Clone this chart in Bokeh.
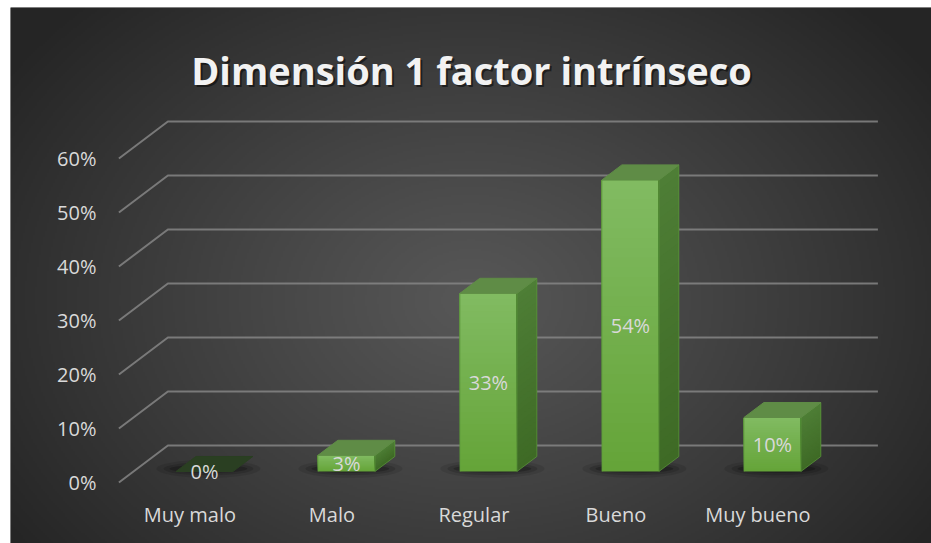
import numpy as np
from bokeh.plotting import figure
from bokeh.models import Range1d
from bokeh.core.properties import value
from bokeh.embed import file_html
from bokeh.resources import INLINE

# ---------------- data ----------------
categories = ["Muy malo", "Malo", "Regular", "Bueno", "Muy bueno"]
percentages = [0, 3, 33, 54, 10]
data_labels = ["0%", "3%", "33%", "54%", "10%"]
tick_values = [0, 10, 20, 30, 40, 50, 60]
tick_labels = ["0%", "10%", "20%", "30%", "40%", "50%", "60%"]
title_text = "Dimensión 1 factor intrínseco"

# ---------------- geometry (style) ----------------
W, H = 931, 543
FL, FT = 10, 7          # white strips left / top (frame offset)
PX_X = 142.0            # px per category
PX_Y = 5.4              # px per percent point
SX0 = 189.4             # screen px of category 0 on the front (z=0) plane
SY0 = 482.0             # screen px (from top) of 0 % on the front plane
DX = 49.0 / PX_X        # depth shift (x) for z = 1 (back wall)
DY = 37.0 / PX_Y        # depth shift (y) for z = 1
ZF, ZB = 0.297, 0.703   # bar front / back planes
HW = 28.5 / PX_X        # half bar width


def sx(px):
    return (px - SX0) / PX_X


def sy(py):
    return (SY0 - py) / PX_Y


x_lo, x_hi = sx(FL), sx(W)
y_lo, y_hi = sy(H), sy(FT)

p = figure(width=W, height=H, output_backend="svg", toolbar_location=None,
           x_range=Range1d(x_lo, x_hi), y_range=Range1d(y_lo, y_hi),
           min_border=0, min_border_left=FL, min_border_right=0,
           min_border_top=FT, min_border_bottom=0)
p.axis.visible = False
p.grid.visible = False
p.outline_line_color = None
p.background_fill_color = "#3a3a3a"
p.border_fill_color = "white"

# ---------------- radial gradient background ----------------
fw, fh = W - FL, H - FT
gw, gh = fw // 2 + 1, fh // 2 + 1
xs = np.linspace(FL, W, gw)
ys_scr = np.linspace(H, FT, gh)  # row 0 = bottom of the plot
GX, GY = np.meshgrid(xs, ys_scr)
d = np.sqrt(((GX - 470) / 560.0) ** 2 + ((GY - 300) / 420.0) ** 2)
d = np.clip(d, 0, 1)
c = (87 - (87 - 37) * d ** 1.1).astype(np.uint8)
img = np.empty((gh, gw), dtype=np.uint32)
view = img.view(dtype=np.uint8).reshape((gh, gw, 4))
view[:, :, 0] = c
view[:, :, 1] = c
view[:, :, 2] = c
view[:, :, 3] = 255
p.image_rgba(image=[img], x=x_lo, y=y_lo, dw=x_hi - x_lo, dh=y_hi - y_lo)

# ---------------- 3D gridlines (back wall + left diagonals) ----------------
n = len(categories)
left_edge, right_edge = -0.5, n - 0.5
gx, gy = [], []
for t in tick_values:
    gx.append([left_edge, left_edge + DX, right_edge + DX])
    gy.append([t, t + DY, t + DY])
p.multi_line(gx, gy, line_color="#858585", line_width=2, line_alpha=0.85)

# ---------------- bar shadows ----------------
for i, v in enumerate(percentages):
    cxs = i + DX * 0.5 - 6 / PX_X
    cys = DY * ZF + 0.5
    for (w_px, h_px, a) in [(104, 18, 0.10), (90, 13, 0.14), (78, 8, 0.22)]:
        p.ellipse(x=[cxs], y=[cys], width=w_px / PX_X, height=h_px / PX_Y,
                  fill_color="black", fill_alpha=a, line_color=None)


def lerp_hex(c1, c2, t):
    a = [int(c1[k:k + 2], 16) for k in (1, 3, 5)]
    b = [int(c2[k:k + 2], 16) for k in (1, 3, 5)]
    return "#%02x%02x%02x" % tuple(int(round(a[j] + (b[j] - a[j]) * t)) for j in range(3))


FRONT_BOT, FRONT_TOP = "#65a438", "#81bb62"
SIDE_BOT, SIDE_TOP = "#3e6a25", "#4e7e36"
TOP_COL = "#5f8c46"
ZERO_TOP = "#2a3f22"
NS = 30

for i, v in enumerate(percentages):
    lf = i - HW + DX * ZF
    rf = i + HW + DX * ZF
    rb = i + HW + DX * ZB
    lb = i - HW + DX * ZB
    yf = DY * ZF
    yb = DY * ZB
    if v > 0:
        # front face: stacked layers, each from its level to the top (no seams)
        L, R, B, T, C = [], [], [], [], []
        for k in range(NS):
            L.append(lf)
            R.append(rf)
            B.append(yf + v * k / NS)
            T.append(yf + v)
            C.append(lerp_hex(FRONT_BOT, FRONT_TOP, (k + 0.5) / NS))
        p.quad(left=L, right=R, bottom=B, top=T, fill_color=C, line_color=None)
        # side face
        SXs, SYs, SC = [], [], []
        for k in range(NS):
            b0 = v * k / NS
            SXs.append([rf, rb, rb, rf])
            SYs.append([yf + b0, yb + b0, yb + v, yf + v])
            SC.append(lerp_hex(SIDE_BOT, SIDE_TOP, (k + 0.5) / NS))
        p.patches(SXs, SYs, fill_color=SC, line_color=None)
        # outlines
        p.multi_line([[lf, lf, rf, rf], [rf, rb, rb, rf]],
                     [[yf, yf + v, yf + v, yf], [yf + v, yb + v, yb, yf]],
                     line_color="#5c9a3c", line_width=1, line_alpha=0.7)
        top_col = TOP_COL
    else:
        top_col = ZERO_TOP
    # top face
    p.patch([lf, rf, rb, lb], [yf + v, yf + v, yb + v, yb + v],
            fill_color=top_col, line_color=top_col, line_width=1)

# ---------------- texts ----------------
FONT = value("Open Sans")
LBL = "#d9d9d9"

# data labels (centre of the front face)
p.text(x=[i + DX * ZF for i in range(n)],
       y=[DY * ZF + v / 2 for v in percentages],
       text=data_labels, text_font=FONT, text_font_size="20px",
       text_color=LBL, text_align="center", text_baseline="middle")

# value-axis labels on the front plane
p.text(x=[sx(96)] * len(tick_values), y=tick_values, text=tick_labels,
       text_font=FONT, text_font_size="20px", text_color=LBL,
       text_align="right", text_baseline="middle")

# category labels
p.text(x=list(range(n)), y=[sy(514)] * n, text=categories,
       text_font=FONT, text_font_size="20px", text_color=LBL,
       text_align="center", text_baseline="middle")

# title with soft shadow
tx, ty = sx(471), sy(69)
p.text(x=[tx], y=[ty], text=[title_text], text_font=FONT, text_font_style="bold",
       text_font_size="38px", text_color="black", text_alpha=0.5,
       text_align="center", text_baseline="alphabetic", x_offset=2, y_offset=2)
p.text(x=[tx], y=[ty], text=[title_text], text_font=FONT, text_font_style="bold",
       text_font_size="38px", text_color="#f2f2f2",
       text_align="center", text_baseline="alphabetic")

open("out.html", "w").write(file_html(p, INLINE))
